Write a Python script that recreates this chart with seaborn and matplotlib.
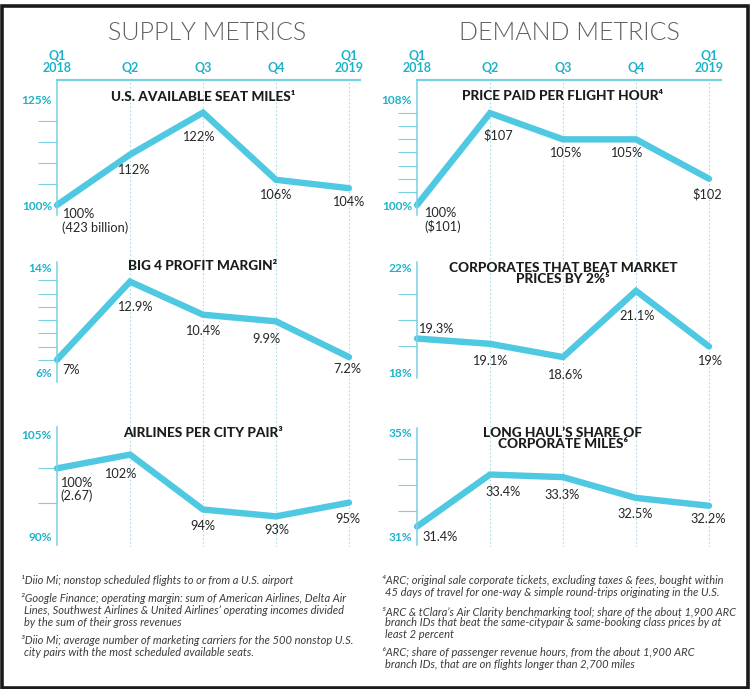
import numpy as np
import matplotlib.pyplot as plt
import pandas as pd
import seaborn as sns
from matplotlib.patches import Rectangle

# quarters on the shared x axis
quarters = ['Q1\n2018', 'Q2', 'Q3', 'Q4', 'Q1\n2019']

# supply metrics
seat_miles = [100, 112, 122, 106, 104]
seat_miles_text = ['100%\n(423 billion)', '112%', '122%', '106%', '104%']
profit_margin = [7, 12.9, 10.4, 9.9, 7.2]
profit_margin_text = ['7%', '12.9%', '10.4%', '9.9%', '7.2%']
city_pair = [100, 102, 94, 93, 95]
city_pair_text = ['100%\n(2.67)', '102%', '94%', '93%', '95%']

# demand metrics
price_hour = [100, 107, 105, 105, 102]
price_hour_text = ['100%\n($101)', '$107', '105%', '105%', '$102']
beat_market = [19.3, 19.1, 18.6, 21.1, 19]
beat_market_text = ['19.3%', '19.1%', '18.6%', '21.1%', '19%']
long_haul = [31.4, 33.4, 33.3, 32.5, 32.2]
long_haul_text = ['31.4%', '33.4%', '33.3%', '32.5%', '32.2%']

footnotes_left = [
    ('¹Diio Mi; nonstop scheduled flights to or from a U.S. airport', 0),
    ('²Google Finance; operating margin: sum of American Airlines, Delta Air', 0),
    ('Lines, Southwest Airlines & United Airlines’ operating incomes divided', 1),
    ('by the sum of their gross revenues', 1),
    ('³Diio Mi; average number of marketing carriers for the 500 nonstop U.S.', 0),
    ('city pairs with the most scheduled available seats.', 1),
]
footnotes_right = [
    ('⁴ARC; original sale corporate tickets, excluding taxes & fees, bought within', 0),
    ('45 days of travel for one-way & simple round-trips originating in the U.S.', 1),
    ('⁵ARC & tClara’s Air Clarity benchmarking tool; share of the about 1,900 ARC', 0),
    ('branch IDs that beat the same-citypair & same-booking class prices by at', 1),
    ('least 2 percent', 1),
    ('⁶ARC; share of passenger revenue hours, from the about 1,900 ARC', 0),
    ('branch IDs, that are on flights longer than 2,700 miles', 1),
]

sns.set_theme(style='white')
plt.rcParams['font.family'] = ['Lato', 'DejaVu Sans']

W, H = 750, 689
LINE = '#4fc8e2'
AXIS = '#78d1e2'
TEAL = '#1fb2c8'
GRID = '#a9dde8'
INK = '#262626'
PX = 0.72  # points per pixel at dpi 100


def box(x0, y0, x1, y1):
    """pixel box (top-left origin) -> figure rect"""
    return [x0 / W, 1 - y1 / H, (x1 - x0) / W, (y1 - y0) / H]


fig = plt.figure(figsize=(W / 100, H / 100), dpi=100)
fig.patch.set_facecolor('white')

columns = {'left': (57, 360), 'right': (417, 721)}
step = 73  # pixels between quarters

# column frames: quarter labels, top rule, dotted quarter lines
for col, (x0, x1) in columns.items():
    ax = fig.add_axes(box(x0, 80, x1, 547))
    ax.set_xlim(0, (x1 - x0) / step)
    ax.set_ylim(0, 1)
    ax.patch.set_alpha(0)
    for s in ['left', 'right', 'bottom']:
        ax.spines[s].set_visible(False)
    ax.spines['top'].set_color(AXIS)
    ax.spines['top'].set_linewidth(1.6)
    ax.set_yticks([])
    ax.set_xticks(range(5))
    ax.set_xticklabels(quarters, fontweight='bold', linespacing=1.0)
    ax.xaxis.tick_top()
    ax.tick_params(axis='x', length=0, pad=4, labelsize=9, labelcolor=TEAL)
    for q in range(1, 5):
        ax.axvline(q, color=GRID, lw=0.8, ls=(0, (1.5, 2)))

fig.text(207 / W, 1 - 33 / H, 'SUPPLY METRICS', ha='center', va='center',
         fontsize=18, fontweight=300, color='#5b6064')
fig.text(569 / W, 1 - 33 / H, 'DEMAND METRICS', ha='center', va='center',
         fontsize=18, fontweight=300, color='#5b6064')

# column, axis top/bottom px, values, texts, title, title centre y, ylim, labelled ticks, minor ticks, label offsets (dx, dy, ha)
panels = [
    ('left', 80, 215, seat_miles, seat_miles_text, 'U.S. AVAILABLE SEAT MILES¹', 97,
     (97.62, 129.76), [100, 125], list(range(105, 125, 5)),
     [(5, 16, 'left'), (3, 15, 'center'), (-5, 24, 'center'), (-1, 15, 'center'), (-1, 14, 'center')]),
    ('left', 262, 382, profit_margin, profit_margin_text, 'BIG 4 PROFIT MARGIN²', 266,
     (5.32, 14.38), [6, 14], list(range(7, 14)),
     [(5, 10, 'left'), (5, 25, 'center'), (0, 16, 'center'), (-10, 18, 'center'), (-2, 12, 'center')]),
    ('left', 427, 545, city_pair, city_pair_text, 'AIRLINES PER CITY PAIR³', 433,
     (88.83, 106.02), [90, 105], [95, 100],
     [(3, 21, 'left'), (-10, 19, 'center'), (0, 16, 'center'), (1, 14, 'center'), (-1, 16, 'center')]),
    ('right', 80, 215, price_hour, price_hour_text, 'PRICE PAID PER FLIGHT HOUR⁴', 96,
     (99.24, 109.52), [100, 108], list(range(101, 108)),
     [(7, 15, 'left'), (8, 22, 'center'), (2, 14, 'center'), (-10, 14, 'center'), (-2, 15, 'center')]),
    ('right', 262, 378, beat_market, beat_market_text, 'CORPORATES THAT BEAT MARKET\nPRICES BY 2%⁵', 273.5,
     (17.81, 22.19), [18, 22], [19, 20, 21],
     [(1, -10, 'left'), (0, 17, 'center'), (2, 18, 'center'), (1, 25, 'center'), (1, 15, 'center')]),
    ('right', 428, 545, long_haul, long_haul_text, 'LONG HAUL’S SHARE OF\nCORPORATE MILES⁶', 438.5,
     (30.69, 35.19), [31, 35], [32, 33, 34],
     [(5, 10, 'left'), (13, 17, 'center'), (-1, 18, 'center'), (-1, 16, 'center'), (-1, 13, 'center')]),
]

for col, top, bottom, values, texts, title, title_y, ylim, major, minor, offs in panels:
    x0, x1 = columns[col]
    ax = fig.add_axes(box(x0, top, x1, bottom))
    ax.patch.set_alpha(0)
    df = pd.DataFrame({'quarter': np.arange(len(values)), 'value': values})
    sns.lineplot(data=df, x='quarter', y='value', ax=ax, color=LINE, lw=4.6,
                 solid_joinstyle='miter', solid_capstyle='round', clip_on=False)
    ax.set_xlim(0, (x1 - x0) / step)
    ax.set_ylim(*ylim)
    ax.set_xlabel('')
    ax.set_ylabel('')
    ax.set_xticks([])
    for s in ['top', 'right', 'bottom']:
        ax.spines[s].set_visible(False)
    ax.spines['left'].set_color(AXIS)
    ax.spines['left'].set_linewidth(1.1)
    ax.set_yticks(major)
    ax.set_yticklabels([f'{v}%' for v in major], fontweight='bold')
    ax.set_yticks(minor, minor=True)
    ax.tick_params(axis='y', which='major', length=0, pad=3.6, labelsize=8.6, labelcolor=TEAL)
    ax.tick_params(axis='y', which='minor', length=13.5, width=0.8, color=AXIS, direction='out', left=True)

    for i, (txt, (dx, dy, ha)) in enumerate(zip(texts, offs)):
        ax.annotate(txt, (i, values[i]), xytext=(dx * PX, -dy * PX), textcoords='offset points',
                    ha=ha, va='center', fontsize=9.2, color=INK, linespacing=1.05)

    cx = x0 + 2 * step
    fig.text(cx / W, 1 - title_y / H, title, ha='center', va='center', fontsize=9.8,
             fontweight='black', color='#1c1c1c', linespacing=0.95)

# footnotes
left_y = [580, 598, 610, 622, 640, 652]
right_y = [580, 592, 612, 623, 634, 653, 664]
for (txt, indent), y in zip(footnotes_left, left_y):
    fig.text((21 + 3 * indent) / W, 1 - y / H, txt, ha='left', va='center',
             fontsize=8, style='italic', color='#3c3c3c')
for (txt, indent), y in zip(footnotes_right, right_y):
    fig.text((382 + 3 * indent) / W, 1 - y / H, txt, ha='left', va='center',
             fontsize=8, style='italic', color='#3c3c3c')

# outer frame
fig.patches.append(Rectangle((1.5 / W, 1 - 687.5 / H), 746 / W, 682 / H, transform=fig.transFigure,
                             fill=False, lw=2.6, ec='#1a1a1a', figure=fig))

fig.savefig('out.png', dpi=100)
